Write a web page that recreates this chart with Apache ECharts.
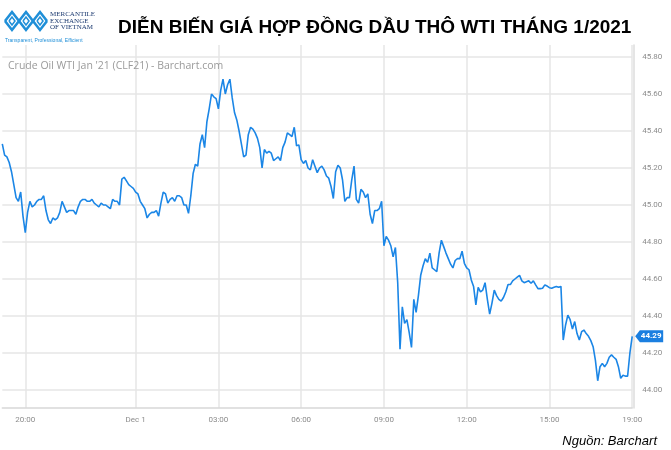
<!DOCTYPE html>
<html><head><meta charset="utf-8">
<script src="https://cdn.jsdelivr.net/npm/echarts@6/dist/echarts.min.js"></script>
<style>html,body{margin:0;padding:0;background:#fff}#c{width:671px;height:450px}</style>
</head><body><div id="c"></div>
<script>
// trading sessions shown (5-minute bars), with the daily break removed
const sessions = [['19:10','23:55'],['00:00','15:55'],['17:00','19:00']];
// closing price of each 5-minute bar
const closePrices = [
45.33,45.27,45.26,45.23,45.18,45.11,45.04,45.02,45.07,44.94,
44.85,44.96,45.02,44.99,45.00,45.02,45.03,45.03,45.05,44.97,
44.92,44.90,44.93,44.92,44.93,44.96,45.02,44.99,44.96,44.97,
44.97,44.97,44.95,44.99,45.02,45.03,45.03,45.02,45.02,45.03,
45.01,45.00,44.99,45.01,45.00,45.00,44.99,44.98,45.03,45.02,
45.02,45.00,45.14,45.15,45.13,45.11,45.10,45.09,45.07,45.06,
45.02,45.00,44.98,44.93,44.95,44.96,44.96,44.97,44.94,45.01,
45.07,45.06,45.01,45.03,45.04,45.02,45.05,45.05,45.04,45.00,
45.00,44.955,45.05,45.17,45.22,45.21,45.33,45.38,45.31,45.45,
45.52,45.60,45.585,45.575,45.52,45.62,45.68,45.60,45.65,45.68,
45.58,45.50,45.46,45.40,45.33,45.26,45.27,45.38,45.42,45.41,
45.39,45.36,45.31,45.20,45.30,45.28,45.29,45.28,45.24,45.25,
45.26,45.24,45.31,45.34,45.39,45.38,45.37,45.42,45.32,45.325,
45.245,45.225,45.24,45.20,45.19,45.245,45.21,45.175,45.20,45.21,
45.19,45.157,45.145,45.10,45.035,45.18,45.215,45.20,45.135,45.02,
45.04,45.04,45.135,45.21,45.03,45.01,45.085,45.07,45.04,45.06,
44.95,44.90,44.97,44.97,44.98,45.02,44.78,44.83,44.81,44.78,
44.72,44.77,44.58,44.22,44.45,44.36,44.38,44.31,44.23,44.49,
44.42,44.51,44.62,44.67,44.71,44.69,44.74,44.66,44.65,44.64,
44.74,44.81,44.775,44.74,44.71,44.68,44.66,44.70,44.71,44.71,
44.75,44.685,44.66,44.65,44.595,44.56,44.46,44.555,44.53,44.54,
44.58,44.49,44.41,44.47,44.54,44.51,44.49,44.48,44.50,44.53,
44.57,44.57,44.59,44.60,44.61,44.62,44.59,44.58,44.585,44.59,
44.577,44.59,44.568,44.548,44.548,44.55,44.568,44.562,44.553,44.55,
44.555,44.56,44.555,44.56,44.27,44.35,44.405,44.38,44.33,44.37,
44.305,44.27,44.315,44.324,44.305,44.29,44.267,44.234,44.16,44.05,
44.126,44.144,44.126,44.144,44.177,44.19,44.177,44.166,44.126,44.063,
44.08,44.075,44.075,44.20,44.29
];
const tickTimes  = ['20:00','00:00','03:00','06:00','09:00','12:00','15:00','19:00'];
const tickLabels = ['20:00','Dec 1','03:00','06:00','09:00','12:00','15:00','19:00'];
const yMin = 44.0, yMax = 45.8, yStep = 0.2;

function toMin(s){const p=s.split(':').map(Number);return p[0]*60+p[1];}
function pad(n){return String(n).padStart(2,'0');}
const categories = [];
sessions.forEach(function(s){
  for(let t=toMin(s[0]);t<=toMin(s[1]);t+=5){categories.push(pad(Math.floor(t/60))+':'+pad(t%60));}
});
const isTick = function(i, v){ return tickTimes.indexOf(v) >= 0; };
const lastIdx = closePrices.length - 1;
const lastVal = closePrices[lastIdx];

const GL = 2.3, GR = 38.8;
const LOGO = '#1f8fd8';
const chart = echarts.init(document.getElementById('c'), null, {renderer:'canvas'});
chart.setOption({
  animation:false,
  backgroundColor:'#ffffff',
  title:[
    {text:'DIỄN BIẾN GIÁ HỢP ĐỒNG DẦU THÔ WTI THÁNG 1/2021', left:113, top:13,
     textStyle:{fontFamily:'Liberation Sans, Arial, sans-serif', fontSize:19, fontWeight:'bold', color:'#000'}},
    {text:'Crude Oil WTI Jan \'21 (CLF21) - Barchart.com', left:3, top:56,
     textStyle:{fontFamily:'Open Sans, sans-serif', fontSize:10.5, fontWeight:'normal', color:'#9a9a9a'}},
    {text:'Nguồn: Barchart', right:9, top:430,
     textStyle:{fontFamily:'Liberation Sans, Arial, sans-serif', fontSize:13, fontStyle:'italic', fontWeight:'normal', color:'#000'}}
  ],
  graphic:[
    {type:'group', x:0, y:0, children:[
      {type:'polyline', shape:{points:[[5,21],[12,12],[19,21],[26,12],[33,21],[40,12],[47,21]]}, style:{stroke:LOGO, lineWidth:2.6, fill:null}},
      {type:'polyline', shape:{points:[[5,21],[12,30],[19,21],[26,30],[33,21],[40,30],[47,21]]}, style:{stroke:LOGO, lineWidth:2.6, fill:null}},
      {type:'polyline', shape:{points:[[9,21],[12,17],[15,21],[12,25],[9,21]]}, style:{stroke:LOGO, lineWidth:1.5, fill:null}},
      {type:'polyline', shape:{points:[[23,21],[26,17],[29,21],[26,25],[23,21]]}, style:{stroke:LOGO, lineWidth:1.5, fill:null}},
      {type:'polyline', shape:{points:[[37,21],[40,17],[43,21],[40,25],[37,21]]}, style:{stroke:LOGO, lineWidth:1.5, fill:null}},
      {type:'text', x:50, y:11, style:{text:'MERCANTILE', font:'7px "Liberation Serif", serif', fill:'#1c3a70'}},
      {type:'text', x:50, y:17.5, style:{text:'EXCHANGE', font:'7px "Liberation Serif", serif', fill:'#1c3a70'}},
      {type:'text', x:50, y:24, style:{text:'OF VIETNAM', font:'7px "Liberation Serif", serif', fill:'#1c3a70'}},
      {type:'text', x:5, y:38, style:{text:'Transparent, Professional, Efficient', font:'5px "Liberation Sans", sans-serif', fill:LOGO}}
    ]}
  ],
  grid:[
    {left:GL, right:GR, top:57, bottom:60},
    {left:GL, right:GR, top:45, bottom:42}
  ],
  xAxis:[
    {type:'category', gridIndex:0, data:categories, boundaryGap:false, show:false},
    {type:'category', gridIndex:1, data:categories, boundaryGap:false,
     axisLine:{show:true, lineStyle:{color:'#d8d8d8', width:1.5}},
     axisTick:{show:false},
     axisLabel:{interval:isTick, margin:8, fontFamily:'Roboto, sans-serif', fontSize:8, color:'#8c8c8c',
       formatter:function(v){const k=tickTimes.indexOf(v);return k>=0?tickLabels[k]:'';}},
     splitLine:{show:true, interval:isTick, lineStyle:{color:'#e6e6e6', width:1.5}}}
  ],
  yAxis:[
    {type:'value', gridIndex:0, position:'right', min:yMin, max:yMax, interval:yStep,
     axisLine:{show:false}, axisTick:{show:false},
     axisLabel:{margin:10, fontFamily:'Roboto, sans-serif', fontSize:8, color:'#8c8c8c',
       formatter:function(v){return v.toFixed(2);}},
     splitLine:{show:true, lineStyle:{color:'#e6e6e6', width:1.5}}},
    {type:'value', gridIndex:1, position:'right', offset:2, min:0, max:1,
     axisLine:{show:true, lineStyle:{color:'#dcdcdc', width:1.5}}, axisTick:{show:false},
     axisLabel:{show:false}, splitLine:{show:false}}
  ],
  series:[{
    type:'line', xAxisIndex:0, yAxisIndex:0, data:closePrices, showSymbol:false, symbol:'none',
    lineStyle:{color:'#1b86e6', width:1.6}, z:5,
    markPoint:{
      symbol:'path://M0,6 L5,0 L30,0 L30,12 L5,12 Z', symbolSize:[28,12], symbolOffset:[17,0],
      itemStyle:{color:'#1b7fe0'},
      label:{show:true, color:'#fff', fontSize:8, fontWeight:'bold', fontFamily:'Roboto, sans-serif', offset:[2,0],
        formatter:function(p){return p.value.toFixed(2);}},
      data:[{coord:[lastIdx, lastVal], value:lastVal}]
    }
  }]
});
</script></body></html>
